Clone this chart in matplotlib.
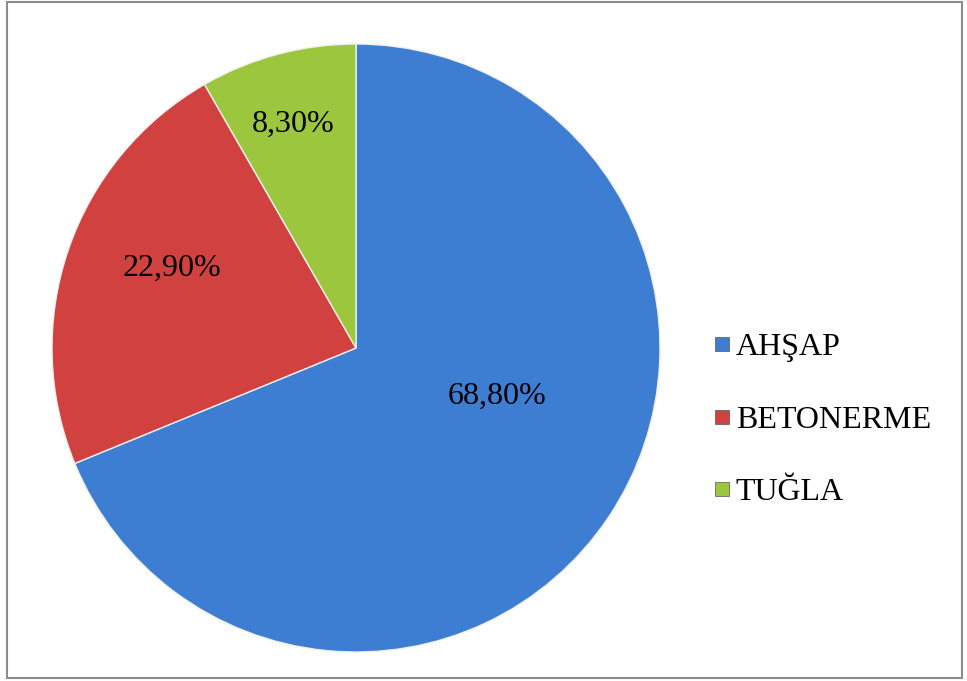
import matplotlib.pyplot as plt
from matplotlib.patches import Rectangle
from matplotlib.lines import Line2D

plt.rcParams['font.family'] = ['Liberation Serif', 'DejaVu Serif']

categories = ["AHŞAP", "BETONERME", "TUĞLA"]
values = [68.8, 22.9, 8.3]
labels = ["68,80%", "22,90%", "8,30%"]
colors = ["#3d7dd2", "#d0413f", "#9dc63f"]

W, H = 967, 681
fig = plt.figure(figsize=(W / 100, H / 100), dpi=100)

# pie centre (356, 348) px, radius 304 px
cx, cy, r = 356, 348, 304
ax = fig.add_axes([(cx - r) / W, (H - cy - r) / H, 2 * r / W, 2 * r / H])

wedges, _ = ax.pie(
    values,
    colors=colors,
    startangle=90,
    counterclock=False,
    radius=1,
    wedgeprops=dict(edgecolor="#f0f0f0", linewidth=1),
)
ax.set_xlim(-1, 1)
ax.set_ylim(-1, 1)
ax.set_aspect("auto")
ax.axis("off")

# label spots measured on the picture (px)
label_px = [(497, 396), (172, 268), (293, 124)]
for txt, (px, py) in zip(labels, label_px):
    ax.text((px - cx) / r, (cy - py) / r, txt,
            ha="center", va="center", fontsize=23)

handles = [
    Line2D([], [], marker="s", linestyle="none", markersize=10,
           markerfacecolor=c, markeredgecolor="#555555", markeredgewidth=0.5)
    for c in colors
]
fig.legend(handles, categories, loc="upper left",
           bbox_to_anchor=(696 / W, 1 - 317 / H),
           frameon=False, fontsize=23, labelspacing=1.35,
           handlelength=0.6, handletextpad=0.15, borderpad=0)

fig.patches.append(Rectangle((7 / W, 3 / H), 955 / W, 676 / H,
                             transform=fig.transFigure, fill=False,
                             edgecolor="#8c8c8c", linewidth=1.5))

fig.savefig("out.png", dpi=100)
